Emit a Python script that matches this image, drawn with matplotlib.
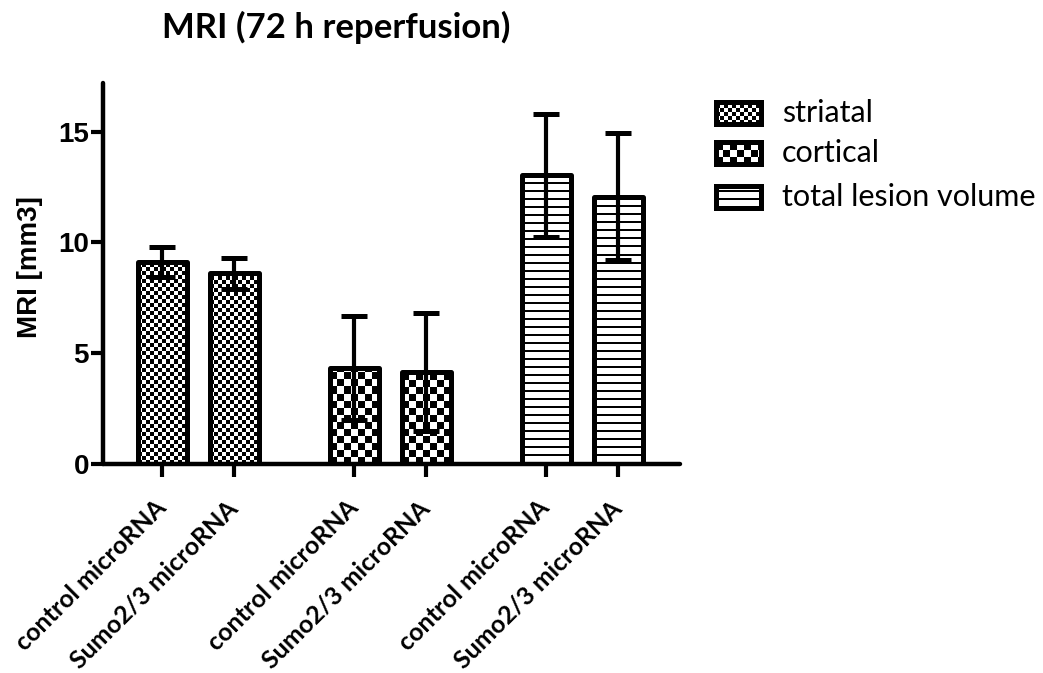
import matplotlib.pyplot as plt
import numpy as np

# group means and SDs (mm3)
labels = ['control microRNA', 'Sumo2/3 microRNA'] * 3
regions = ['striatal', 'cortical', 'total lesion volume']
striatal = [9.12, 8.62]
striatal_sd = [0.67, 0.70]
cortical = [4.35, 4.15]
cortical_sd = [2.35, 2.66]
total = [13.03, 12.07]
total_sd = [2.78, 2.87]

values = striatal + cortical + total
errors = striatal_sd + cortical_sd + total_sd
pattern_of_bar = ['fine', 'fine', 'coarse', 'coarse', 'stripes', 'stripes']
xpos = np.array([0, 1, 2.67, 3.67, 5.33, 6.33])

W, H, DPI = 1043, 673, 100
fig = plt.figure(figsize=(W / DPI, H / DPI), dpi=DPI)
ax_left, ax_right, ax_top, ax_bottom = 103, 680, 83, 464
ax = fig.add_axes([ax_left / W, (H - ax_bottom) / H,
                   (ax_right - ax_left) / W, (ax_bottom - ax_top) / H])
xlim = (-0.82, 7.19)
ylim = (0, 17.2)
px_x = (ax_right - ax_left) / (xlim[1] - xlim[0])
px_y = (ax_bottom - ax_top) / (ylim[1] - ylim[0])


def texture(kind, rows, cols):
    i, j = np.mgrid[0:rows, 0:cols]
    if kind == 'fine':
        return ((i // 4 + j // 4) % 2).astype(float)
    if kind == 'coarse':
        return ((i // 7 + j // 7) % 2).astype(float)
    return ((i % 8) >= 2).astype(float)


bars = ax.bar(xpos, values, width=0.68, facecolor='none', edgecolor='black',
              linewidth=3.6, joinstyle='round', zorder=3)
for bar, kind in zip(bars, pattern_of_bar):
    x0, w, h = bar.get_x(), bar.get_width(), bar.get_height()
    rows = int(round(h * px_y)) + 1
    cols = int(round(w * px_x)) + 1
    tex = texture(kind, rows, cols)
    im = ax.imshow(tex, cmap='gray', vmin=0, vmax=1, origin='lower',
                   interpolation='nearest', aspect='auto',
                   extent=(x0, x0 + cols / px_x, 0, rows / px_y), zorder=2)
    im.set_clip_path(bar)

ax.errorbar(xpos, values, yerr=errors, fmt='none', ecolor='black',
            elinewidth=3, capsize=9.7, capthick=3.6, zorder=4)

ax.set_xlim(*xlim)
ax.set_ylim(*ylim)
for side in ['top', 'right']:
    ax.spines[side].set_visible(False)
for side in ['left', 'bottom']:
    ax.spines[side].set_linewidth(3.2)
    ax.spines[side].set_capstyle('round')

ax.set_yticks([0, 5, 10, 15])
ax.tick_params(axis='y', length=9, width=3, pad=1, labelsize=20)
for t in ax.get_yticklabels():
    t.set_fontfamily('Liberation Sans')
    t.set_fontweight('bold')

ax.set_xticks(xpos)
ax.set_xticklabels(labels, rotation=45, ha='right', va='center',
                   rotation_mode='anchor', fontfamily='Lato',
                   fontweight='bold', fontsize=18)
ax.tick_params(axis='x', length=9, width=3, pad=20)

fig.text(30 / W, 1 - 267 / H, 'MRI [mm3]', rotation=90, ha='center',
         va='center', fontfamily='Liberation Sans', fontweight='bold',
         fontsize=20)
fig.text(336 / W, 1 - 38 / H, 'MRI (72 h reperfusion)', ha='center',
         va='baseline', fontfamily='Lato', fontweight='bold', fontsize=25)

# legend swatches
sw_left, sw_w, sw_h = 716, 45, 22
for name, kind, cy in zip(regions, ['fine', 'coarse', 'stripes'],
                          [113, 153, 197]):
    sax = fig.add_axes([sw_left / W, 1 - (cy + sw_h / 2) / H,
                        sw_w / W, sw_h / H])
    sax.imshow(texture(kind, sw_h, sw_w), cmap='gray', vmin=0, vmax=1,
               origin='lower', interpolation='nearest', aspect='auto')
    sax.set_xticks([])
    sax.set_yticks([])
    for sp in sax.spines.values():
        sp.set_linewidth(3.6)
    fig.text(782 / W, 1 - cy / H, name, ha='left', va='center',
             fontfamily='Lato', fontsize=22)

fig.savefig('out.png', dpi=DPI)
